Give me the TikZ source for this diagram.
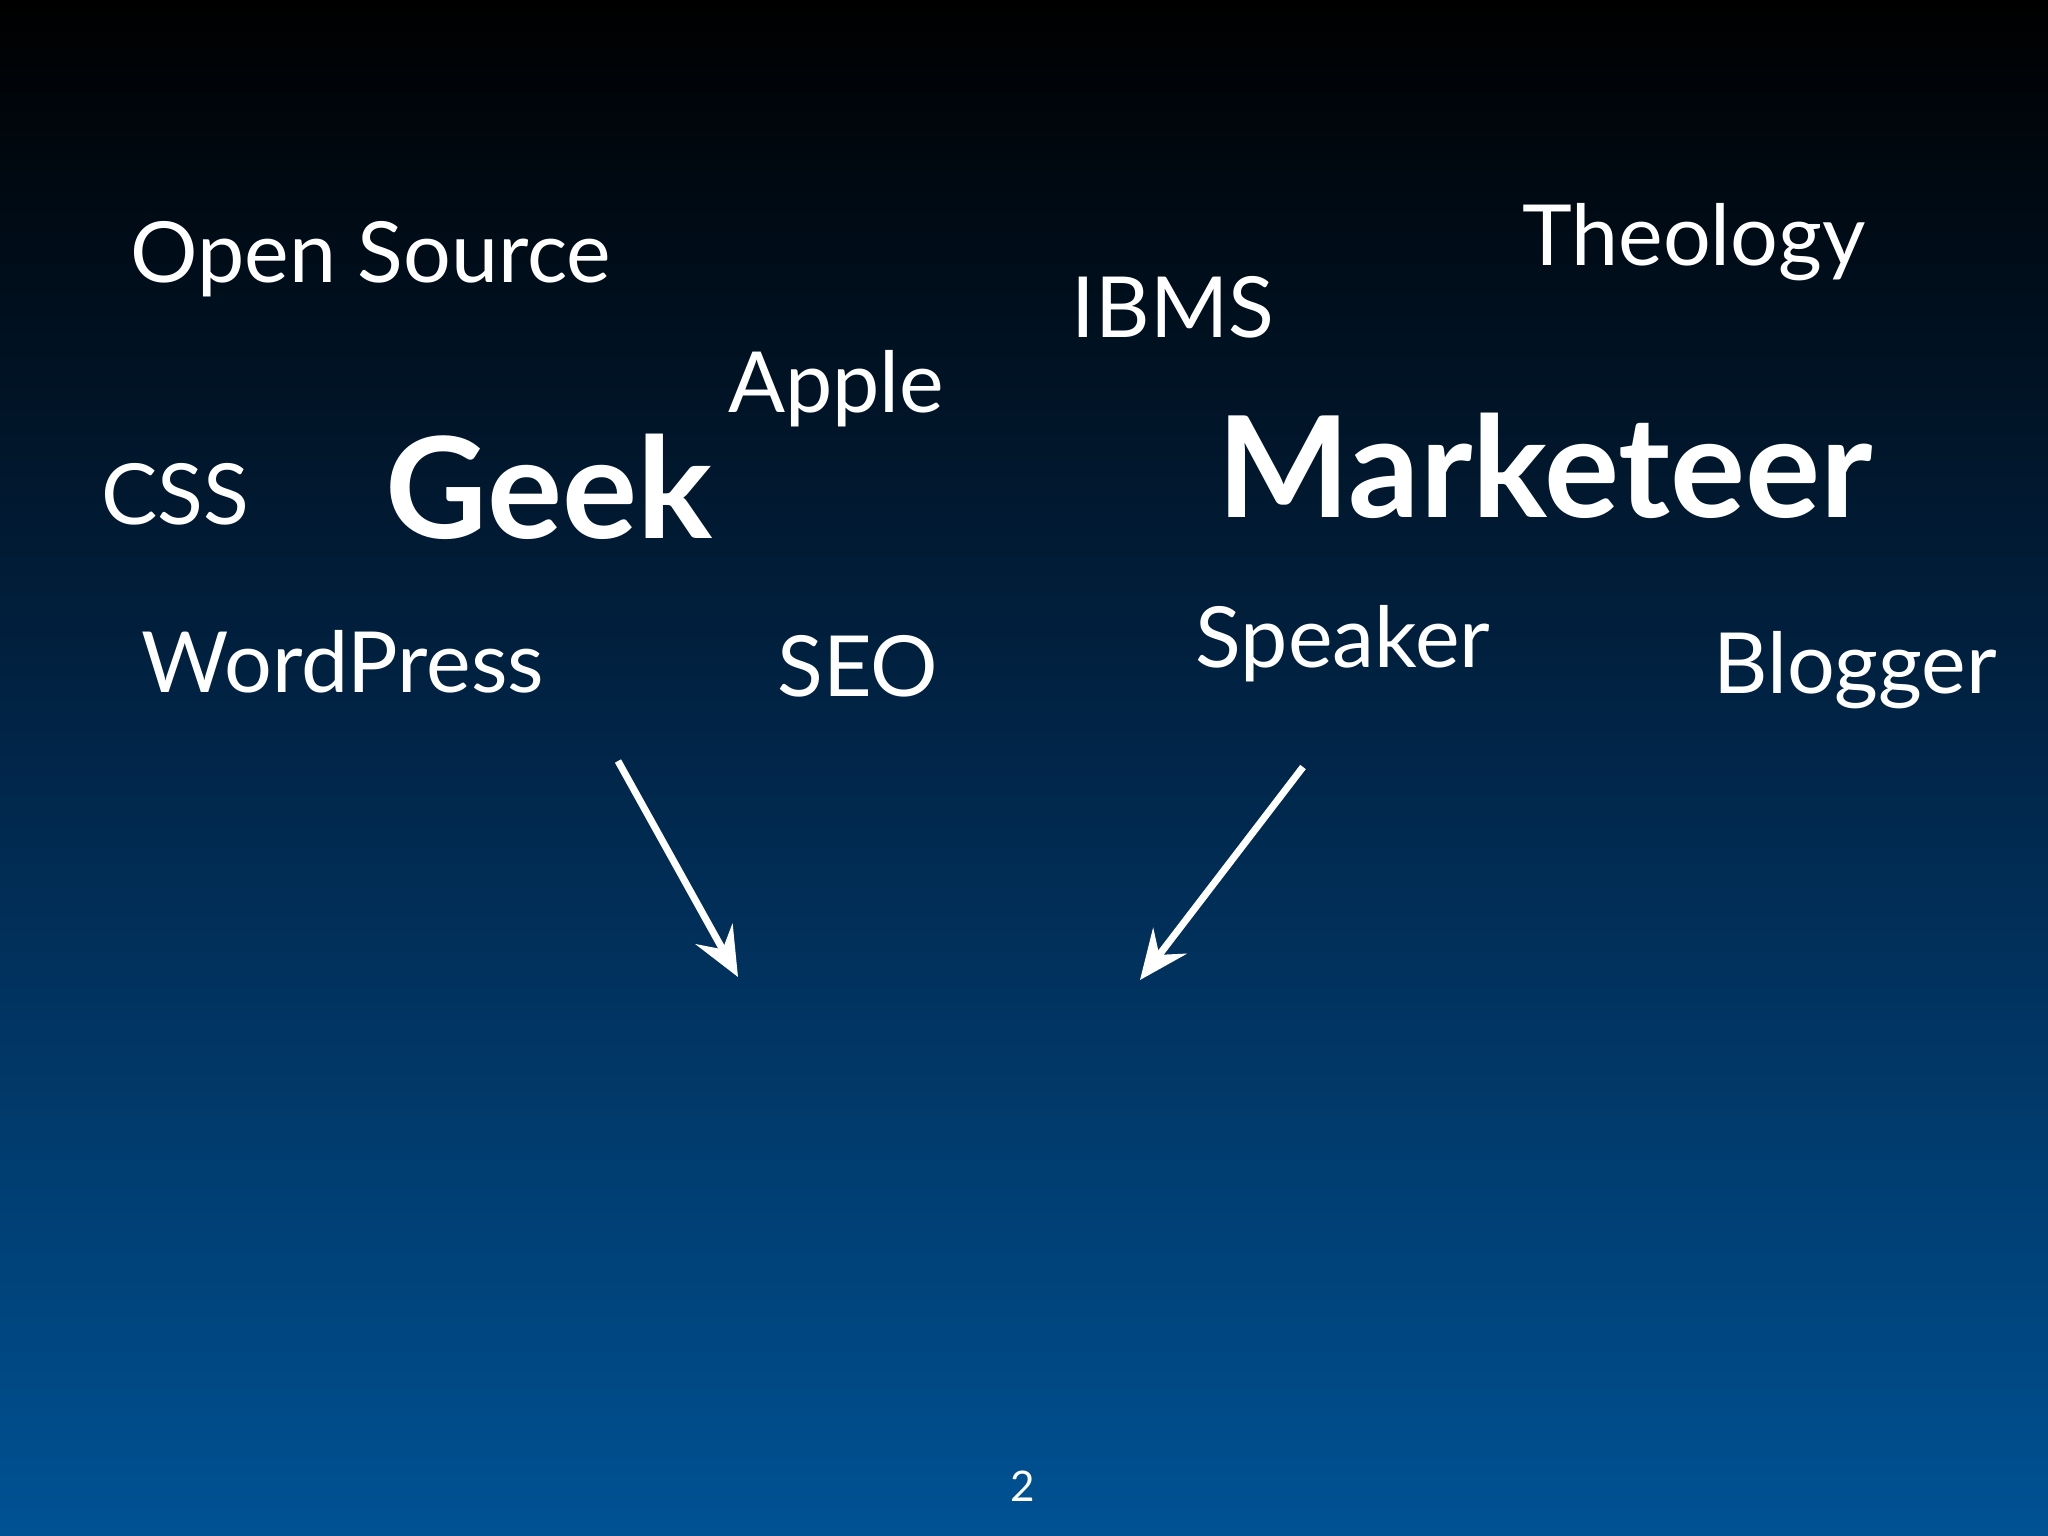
\documentclass[tikz,border=0pt]{standalone}
\usepackage{fontspec}
\setmainfont{Lato}
\usetikzlibrary{arrows.meta}
\definecolor{bgtop}{RGB}{0,0,0}
\definecolor{bgmid}{RGB}{1,38,74}
\definecolor{bgbot}{RGB}{0,82,148}
\tikzset{word/.style={text=white,font=\fontsize{24}{28}\selectfont,inner sep=0pt},
big/.style={text=white,font=\fontsize{40}{46}\selectfont\bfseries,inner sep=0pt},
arr/.style={white,line width=2pt,-{Stealth[length=14pt,width=12pt,inset=5pt]}}}
\begin{document}
\begin{tikzpicture}
\shade[top color=bgtop,bottom color=bgbot,middle color=bgmid] (0,0) rectangle (20.48,-15.36);
\useasboundingbox (0,0) rectangle (20.48,-15.36);
\node[word] (os) at (3.71,-2.59) {Open Source};
\node[word] (th) at (16.94,-2.42) {Theology};
\node[word] (ib) at (11.73,-3.07) {IBMS};
\node[word] (ap) at (8.36,-3.89) {Apple};
\node[word] (css) at (1.75,-4.94) {CSS};
\node[big] (geek) at (5.49,-4.87) {Geek};
\node[big] (mk) at (15.45,-4.66) {Marketeer};
\node[word] (wp) at (3.43,-6.62) {WordPress};
\node[word] (seo) at (8.58,-6.66) {SEO};
\node[word] (sp) at (13.43,-6.44) {Speaker};
\node[word] (bl) at (18.55,-6.70) {Blogger};
\node[text=white,font=\fontsize{12}{14}\selectfont] (pg) at (10.23,-14.86) {2};
\coordinate (a1) at (6.18,-7.61);
\coordinate (b1) at (7.38,-9.77);
\coordinate (a2) at (13.03,-7.67);
\coordinate (b2) at (11.40,-9.80);
\draw[arr] (a1) -- (b1);
\draw[arr] (a2) -- (b2);
\end{tikzpicture}
\end{document}
